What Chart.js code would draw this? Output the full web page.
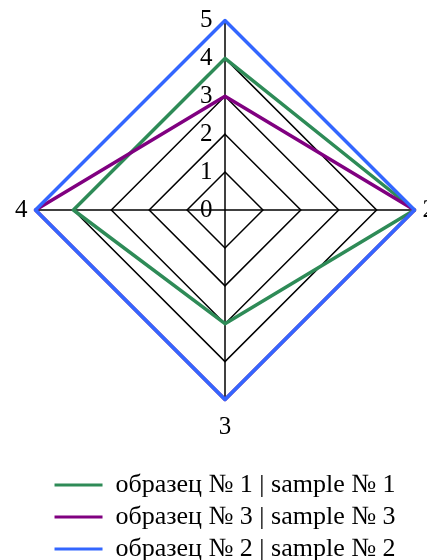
<!DOCTYPE html>
<html>
<head>
<meta charset="utf-8">
<script src="https://cdn.jsdelivr.net/npm/chart.js@4"></script>
<style>
    html, body { margin: 0; padding: 0; background: #fff; overflow: hidden; width: 427px; height: 560px; }
    #wrap { position: absolute; left: 0; top: -22.5px; width: 450px; height: 594px; }
</style>
</head>
<body>
<div id="wrap"><canvas id="radarChart"></canvas></div>
<script>
    // axis labels (the top one sits just above the picture)
    var axisLabels = ["1", "2", "3", "4"];
    var tickValues = [0, 1, 2, 3, 4, 5];

    var sample1 = [4, 5, 3, 4];
    var sample3 = [3, 5, 5, 5];
    var sample2 = [5, 5, 5, 5];

    var seriesNames = ["образец № 1 | sample № 1", "образец № 3 | sample № 3", "образец № 2 | sample № 2"];
    var seriesColors = ['#2e8b57', '#800080', '#3366ff'];

    var serif = "'Liberation Serif', 'Times New Roman', serif";

    function makeSet(i, values, order) {
        return {
            label: seriesNames[i],
            data: values,
            borderColor: seriesColors[i],
            backgroundColor: seriesColors[i],
            pointBorderColor: seriesColors[i],
            pointBorderWidth: 3,
            order: order
        };
    }

    var ctx = document.getElementById('radarChart').getContext('2d');
    var chart = new Chart(ctx, {
        type: 'radar',
        data: {
            labels: axisLabels,
            // drawn green first, blue last (on top)
            datasets: [makeSet(0, sample1, 3), makeSet(1, sample3, 2), makeSet(2, sample2, 1)]
        },
        options: {
            responsive: true,
            maintainAspectRatio: false,
            animation: false,
            elements: {
                line: { borderWidth: 3.5, fill: false, tension: 0, borderJoinStyle: 'round' },
                point: { radius: 0, hoverRadius: 0 }
            },
            scales: {
                r: {
                    min: -0.001,
                    max: 5,
                    afterBuildTicks: function(scale) {
                        // dummy first tick so that the "0" label is still drawn
                        scale.ticks = [{ value: scale.min }].concat(tickValues.map(function(v) {
                            return { value: v };
                        }));
                    },
                    angleLines: { color: '#000', lineWidth: 1.5 },
                    grid: {
                        circular: false,
                        lineWidth: 1.5,
                        color: function(c) {
                            return c.tick && c.tick.value > 0 ? '#000' : 'rgba(0,0,0,0)';
                        }
                    },
                    ticks: {
                        color: '#000',
                        showLabelBackdrop: false,
                        backdropPadding: 0,
                        font: { family: serif, size: 25 },
                        callback: function(value) {
                            if (value < 0) return '';
                            return value + '\u00a0\u00a0\u00a0\u00a0\u00a0\u00a0';
                        }
                    },
                    pointLabels: {
                        color: '#000',
                        font: { family: serif, size: 25 },
                        padding: function(c) {
                            return c.index % 2 === 0 ? 0 : -4.5;
                        }
                    }
                }
            },
            plugins: {
                tooltip: { enabled: false },
                legend: {
                    position: 'bottom',
                    title: { display: true, text: '', font: { size: 10 }, padding: { top: 10.5, bottom: 0 } },
                    labels: {
                        color: '#000',
                        font: { family: serif, size: 26 },
                        padding: 6,
                        usePointStyle: true,
                        pointStyle: 'line',
                        pointStyleWidth: 48,
                        sort: function(a, b) {
                            return a.datasetIndex - b.datasetIndex;
                        }
                    }
                }
            }
        }
    });
</script>
</body>
</html>
